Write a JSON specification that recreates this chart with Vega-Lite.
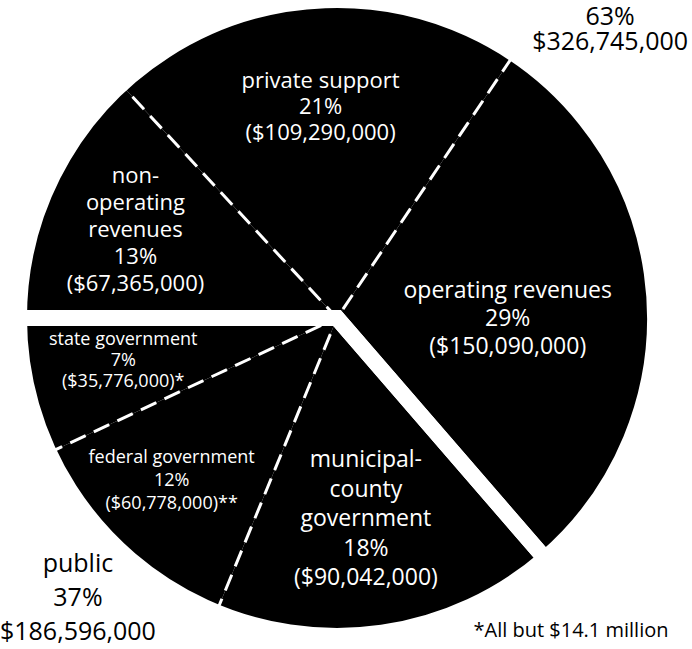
{
  "$schema": "https://vega.github.io/schema/vega-lite/v6.json",
  "width": 674,
  "height": 636,
  "autosize": "none",
  "padding": {"left": 0, "top": 0, "right": 18, "bottom": 13},
  "background": "white",
  "view": {"stroke": null},
  "datasets": {
    "slices": [
      {"source": "non-operating revenues", "label": "non-\noperating\nrevenues\n13%\n($67,365,000)", "value": 67365000, "order": 1},
      {"source": "private support", "label": "private support\n21%\n($109,290,000)", "value": 109290000, "order": 2},
      {"source": "operating revenues", "label": "operating revenues\n29%\n($150,090,000)", "value": 150090000, "order": 3},
      {"source": "municipal-county government", "label": "municipal-\ncounty\ngovernment\n18%\n($90,042,000)", "value": 90042000, "order": 4, "note": "*All but $14.1 million"},
      {"source": "federal government", "label": "federal government\n12%\n($60,778,000)**", "value": 60778000, "order": 5},
      {"source": "state government", "label": "state government\n7%\n($35,776,000)*", "value": 35776000, "order": 6}
    ],
    "groups": [
      {"group": "earned and private", "label": "63%\n$326,745,000", "value": 326745000, "order": 1},
      {"group": "public", "label": "public\n37%\n$186,596,000", "value": 186596000, "order": 2}
    ]
  },
  "encoding": {
    "theta": {"field": "value", "type": "quantitative", "stack": true, "scale": {"range": [4.712389, 10.995574]}},
    "order": {"field": "order", "type": "quantitative", "sort": "ascending"}
  },
  "layer": [
    {
      "data": {"name": "slices"},
      "mark": {"type": "arc", "outerRadius": 318, "color": "black", "fill": "black", "strokeWidth": 0}
    },
    {
      "data": {"name": "slices"},
      "mark": {"type": "arc", "outerRadius": 318, "fill": "white", "fillOpacity": 0, "stroke": "white", "strokeWidth": 3, "strokeDash": [17, 9]},
      "encoding": {"strokeOpacity": {"condition": {"test": "datum.order === 2 || datum.order === 5", "value": 1}, "value": 0}}
    },
    {
      "data": {"name": "groups"},
      "mark": {"type": "arc", "outerRadius": 318, "fill": "white", "fillOpacity": 0, "stroke": "white", "strokeWidth": 16, "strokeJoin": "miter"}
    },
    {
      "data": {"name": "slices"},
      "mark": {"type": "text", "radius": 220, "dy": -54, "font": "Open Sans", "fontSize": 22, "letterSpacing": 1.2, "color": "white", "lineBreak": "\n", "lineHeight": 27, "align": "center", "baseline": "middle"},
      "encoding": {"text": {"condition": {"test": "datum.order === 1", "field": "label"}, "value": ""}}
    },
    {
      "data": {"name": "slices"},
      "mark": {"type": "text", "radius": 212, "dy": -26, "font": "Open Sans", "fontSize": 22, "letterSpacing": 1.3, "color": "white", "lineBreak": "\n", "lineHeight": 26, "align": "center", "baseline": "middle"},
      "encoding": {"text": {"condition": {"test": "datum.order === 2", "field": "label"}, "value": ""}}
    },
    {
      "data": {"name": "slices"},
      "mark": {"type": "text", "radius": 171, "dy": -17, "font": "Open Sans", "fontSize": 23, "letterSpacing": 1.2, "color": "white", "lineBreak": "\n", "lineHeight": 28, "align": "center", "baseline": "middle"},
      "encoding": {"text": {"condition": {"test": "datum.order === 3", "field": "label"}, "value": ""}}
    },
    {
      "data": {"name": "slices"},
      "mark": {"type": "text", "radius": 204, "dx": -4, "dy": -59, "font": "Open Sans", "fontSize": 23, "letterSpacing": 1.2, "color": "white", "lineBreak": "\n", "lineHeight": 29.5, "align": "center", "baseline": "middle"},
      "encoding": {"text": {"condition": {"test": "datum.order === 4", "field": "label"}, "value": ""}}
    },
    {
      "data": {"name": "slices"},
      "mark": {"type": "text", "radius": 234, "dx": -4, "dy": -29, "font": "Open Sans", "fontSize": 18, "letterSpacing": 2.3, "color": "white", "lineBreak": "\n", "lineHeight": 23, "align": "center", "baseline": "middle"},
      "encoding": {"text": {"condition": {"test": "datum.order === 5", "field": "label"}, "value": ""}}
    },
    {
      "data": {"name": "slices"},
      "mark": {"type": "text", "radius": 219, "dy": -26, "font": "Open Sans", "fontSize": 18, "letterSpacing": 2.5, "color": "white", "lineBreak": "\n", "lineHeight": 21, "align": "center", "baseline": "middle"},
      "encoding": {"text": {"condition": {"test": "datum.order === 6", "field": "label"}, "value": ""}}
    },
    {
      "data": {"name": "slices"},
      "mark": {"type": "text", "radius": 310, "dx": 184, "dy": 7, "font": "Open Sans", "fontSize": 20, "letterSpacing": 0.8, "color": "black", "align": "center", "baseline": "middle"},
      "encoding": {"text": {"condition": {"test": "datum.order === 4", "field": "note"}, "value": ""}}
    },
    {
      "data": {"name": "groups"},
      "mark": {"type": "text", "radius": 320, "dx": 140, "dy": -10, "font": "Open Sans", "fontSize": 25, "letterSpacing": 0.5, "color": "black", "lineBreak": "\n", "lineHeight": 25, "align": "center", "baseline": "middle"},
      "encoding": {"text": {"condition": {"test": "datum.order === 1", "field": "label"}, "value": ""}}
    },
    {
      "data": {"name": "groups"},
      "mark": {"type": "text", "radius": 308, "dx": -131, "dy": -34, "font": "Open Sans", "fontSize": 25, "letterSpacing": 0.6, "color": "black", "lineBreak": "\n", "lineHeight": 34, "align": "center", "baseline": "middle"},
      "encoding": {"text": {"condition": {"test": "datum.order === 2", "field": "label"}, "value": ""}}
    }
  ]
}
